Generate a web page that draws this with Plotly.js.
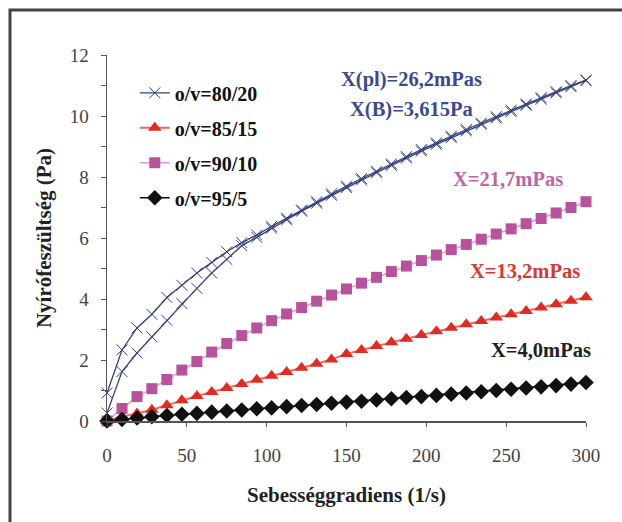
<!DOCTYPE html>
<html>
<head>
<meta charset="utf-8">
<script src="https://cdn.plot.ly/plotly-3.0.1.min.js"></script>
<style>
html,body{margin:0;padding:0;background:#fff;}
#chart{width:622px;height:522px;}
</style>
</head>
<body>
<div id="chart"></div>
<script>
// Shear rate (1/s)
const shearRate = [0, 9.4, 18.8, 28.1, 37.5, 46.9, 56.3, 65.6, 75, 84.4, 93.8, 103.1, 112.5, 121.9, 131.3, 140.6, 150, 159.4, 168.8, 178.1, 187.5, 196.9, 206.3, 215.6, 225, 234.4, 243.8, 253.1, 262.5, 271.9, 281.3, 290.6, 300];

const seriesNames = ["o/v=80/20", "o/v=85/15", "o/v=90/10", "o/v=95/5"];

// o/v=80/20 : up and down branches (hysteresis)
const ov8020Up = [0.92, 2.33, 3.05, 3.50, 4.05, 4.45, 4.85, 5.20, 5.55, 5.85, 6.10, 6.38, 6.65, 6.92, 7.19, 7.45, 7.70, 7.95, 8.19, 8.43, 8.67, 8.90, 9.12, 9.34, 9.56, 9.77, 9.98, 10.19, 10.39, 10.60, 10.80, 11.00, 11.18];
const ov8020Down = [0.26, 1.62, 2.23, 2.76, 3.30, 3.85, 4.35, 4.85, 5.30, 5.75, 6.02, 6.32, 6.60, 6.88, 7.14, 7.40, 7.65, 7.90, 8.14, 8.38, 8.62, 8.85, 9.07, 9.29, 9.51, 9.72, 9.93, 10.14, 10.35, 10.55, 10.76, 10.96, 11.16];
const ov8515 = [0, 0.14, 0.25, 0.37, 0.52, 0.68, 0.82, 0.95, 1.08, 1.21, 1.35, 1.48, 1.61, 1.75, 1.88, 2.02, 2.20, 2.33, 2.46, 2.58, 2.70, 2.82, 2.94, 3.06, 3.17, 3.28, 3.39, 3.50, 3.61, 3.72, 3.83, 3.94, 4.06];
const ov9010 = [0, 0.41, 0.80, 1.06, 1.36, 1.67, 1.95, 2.26, 2.54, 2.80, 3.05, 3.29, 3.51, 3.72, 3.93, 4.13, 4.33, 4.52, 4.71, 4.90, 5.08, 5.26, 5.44, 5.62, 5.79, 5.96, 6.13, 6.30, 6.47, 6.64, 6.82, 7.00, 7.19];
const ov955 = [0, 0.05, 0.10, 0.14, 0.18, 0.22, 0.25, 0.29, 0.33, 0.36, 0.40, 0.43, 0.47, 0.51, 0.54, 0.58, 0.62, 0.65, 0.69, 0.73, 0.77, 0.80, 0.84, 0.88, 0.92, 0.96, 1.00, 1.04, 1.08, 1.12, 1.16, 1.21, 1.26];

const xTicks = [0, 50, 100, 150, 200, 250, 300];
const yTicks = [0, 2, 4, 6, 8, 10, 12];

const fitLabels = ["X(pl)=26,2mPas", "X(B)=3,615Pa", "X=21,7mPas", "X=13,2mPas", "X=4,0mPas"];
const fitLabelX = [191, 191, 251, 262, 272];
const fitLabelY = [11.2, 10.2, 7.95, 4.93, 2.32];

const SERIF = "Liberation Serif";
const cBlue = "#34407f", cRed = "#e12a22", cPink = "#b9529c", cBlack = "#111111";
const fitColors = ["#3b4a8e", "#3b4a8e", "#c064a6", "#d63a30", "#222222"];

const traces = [
  {x: shearRate, y: ov8020Up, name: seriesNames[0], legendgroup: "g1", mode: "lines+markers",
   line: {color: cBlue, width: 1.3}, marker: {symbol: "x-thin-open", size: 11, color: cBlue, line: {color: cBlue, width: 1}}, cliponaxis: false},
  {x: shearRate, y: ov8020Down, name: seriesNames[0], legendgroup: "g1", showlegend: false, mode: "lines+markers",
   line: {color: cBlue, width: 1.3}, marker: {symbol: "x-thin-open", size: 11, color: cBlue, line: {color: cBlue, width: 1}}, cliponaxis: false},
  {x: shearRate, y: ov8515, name: seriesNames[1], legendgroup: "g2", mode: "lines+markers",
   line: {color: "#ee6a5a", width: 2}, marker: {symbol: "triangle-up", size: 12, color: cRed}, cliponaxis: false},
  {x: shearRate, y: ov9010, name: seriesNames[2], legendgroup: "g3", mode: "lines+markers",
   line: {color: "#d8a0c8", width: 1.5}, marker: {symbol: "square", size: 11, color: cPink}, cliponaxis: false},
  {x: shearRate, y: ov955, name: seriesNames[3], legendgroup: "g4", mode: "lines+markers",
   line: {color: cBlack, width: 1.5}, marker: {symbol: "diamond", size: 12, color: cBlack}, cliponaxis: false}
];

const annotations = fitLabels.map((t, i) => ({
  x: fitLabelX[i], y: fitLabelY[i], xref: "x", yref: "y", text: "<b>" + t + "</b>",
  showarrow: false, font: {family: SERIF, size: 20.5, color: fitColors[i]}
}));

const layout = {
  width: 622, height: 522,
  margin: {l: 107, r: 36, t: 55, b: 101},
  paper_bgcolor: "#ffffff", plot_bgcolor: "#ffffff",
  font: {family: SERIF},
  showlegend: true,
  legend: {x: 0.058, y: 0.95, xanchor: "left", yanchor: "top", bgcolor: "rgba(0,0,0,0)",
           font: {family: SERIF, size: 20, color: "#111", weight: "bold"}, tracegroupgap: 6, itemwidth: 30},
  xaxis: {range: [0, 300], tickvals: xTicks, ticks: "outside", ticklen: 4, tickcolor: "#555",
          showgrid: false, zeroline: false, showline: true, linecolor: "#555", linewidth: 1.5,
          tickfont: {family: SERIF, size: 19, color: "#444"}, ticklabelstandoff: 13,
          title: {text: "<b>Sebességgradiens (1/s)</b>", font: {family: SERIF, size: 21, color: "#222"}, standoff: 22}},
  yaxis: {range: [0, 12], tickvals: yTicks, ticks: "outside", ticklen: 5, tickcolor: "#555",
          minor: {dtick: 1, ticks: "outside", ticklen: 5, tickcolor: "#555", showgrid: false},
          showgrid: false, zeroline: false, showline: true, linecolor: "#555", linewidth: 1.5,
          tickfont: {family: SERIF, size: 19, color: "#444"}, ticklabelstandoff: 8,
          title: {text: "<b>Nyírófeszültség (Pa)</b>", font: {family: SERIF, size: 21, color: "#222"}, standoff: 12}},
  annotations: annotations,
  shapes: [
    {type: "rect", xref: "paper", yref: "paper", x0: -0.2025, y0: -0.4, x1: 1.2, y1: 1.123,
     line: {color: "#444", width: 3}, fillcolor: "rgba(0,0,0,0)", layer: "below"}
  ]
};

Plotly.newPlot("chart", traces, layout, {displayModeBar: false, staticPlot: true});
</script>
</body>
</html>
